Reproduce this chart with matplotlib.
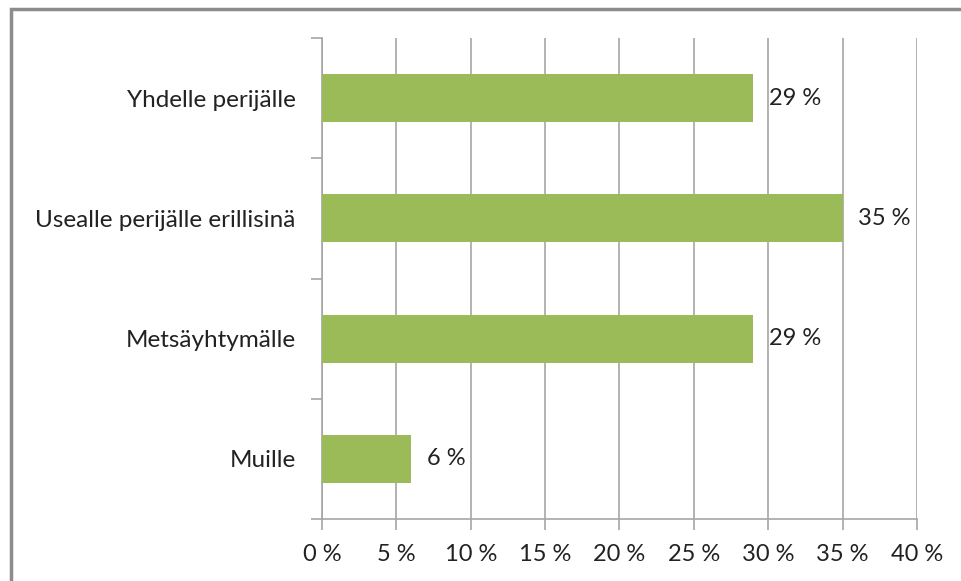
import numpy as np
import matplotlib.pyplot as plt
from matplotlib.patches import Rectangle

categories = ["Yhdelle perijälle", "Usealle perijälle erillisinä", "Metsäyhtymälle", "Muille"]
values = [29, 35, 29, 6]
xticks = [0, 5, 10, 15, 20, 25, 30, 35, 40]

plt.rcParams['font.family'] = ['Lato', 'DejaVu Sans']
grey = '#a6a6a6'

fig = plt.figure(figsize=(9.62, 5.81), dpi=100)
ax = fig.add_axes([322/962, 62/581, (917-322)/962, (519-38)/581])

# frame round the chart
fig.patches.append(Rectangle((11/962, -0.1), 1.2, (581-9)/581 + 0.1, transform=fig.transFigure,
                             fill=False, edgecolor='#8c8c8c', linewidth=2.5))

y = np.arange(len(categories))
ax.barh(y, values, height=0.4, color='#9bbb59', zorder=3)
for yi, v in zip(y, values):
    ax.text(v + 1.05, yi, f"{v} %", va='center', ha='left', fontsize=17, color='#222222')

ax.set_xlim(0, 40)
ax.set_ylim(len(categories) - 0.5, -0.5)
ax.set_xticks(xticks)
ax.set_xticklabels([f"{t} %" for t in xticks], fontsize=17, color='#222222')
ax.set_yticks(y)
ax.set_yticklabels(categories, fontsize=17.5, color='#222222')
ax.tick_params(axis='y', which='major', length=0, pad=19)
ax.set_yticks(np.arange(len(categories) + 1) - 0.5, minor=True)
ax.tick_params(axis='y', which='minor', length=8, color=grey, width=1.2)
ax.tick_params(axis='x', length=8, color=grey, width=1.2, pad=10)

ax.xaxis.grid(True, color=grey, linewidth=1.2, zorder=0)
for s in ['top', 'right']:
    ax.spines[s].set_visible(False)
for s in ['left', 'bottom']:
    ax.spines[s].set_color(grey)
    ax.spines[s].set_linewidth(1.2)

fig.savefig('out.png', dpi=100)
